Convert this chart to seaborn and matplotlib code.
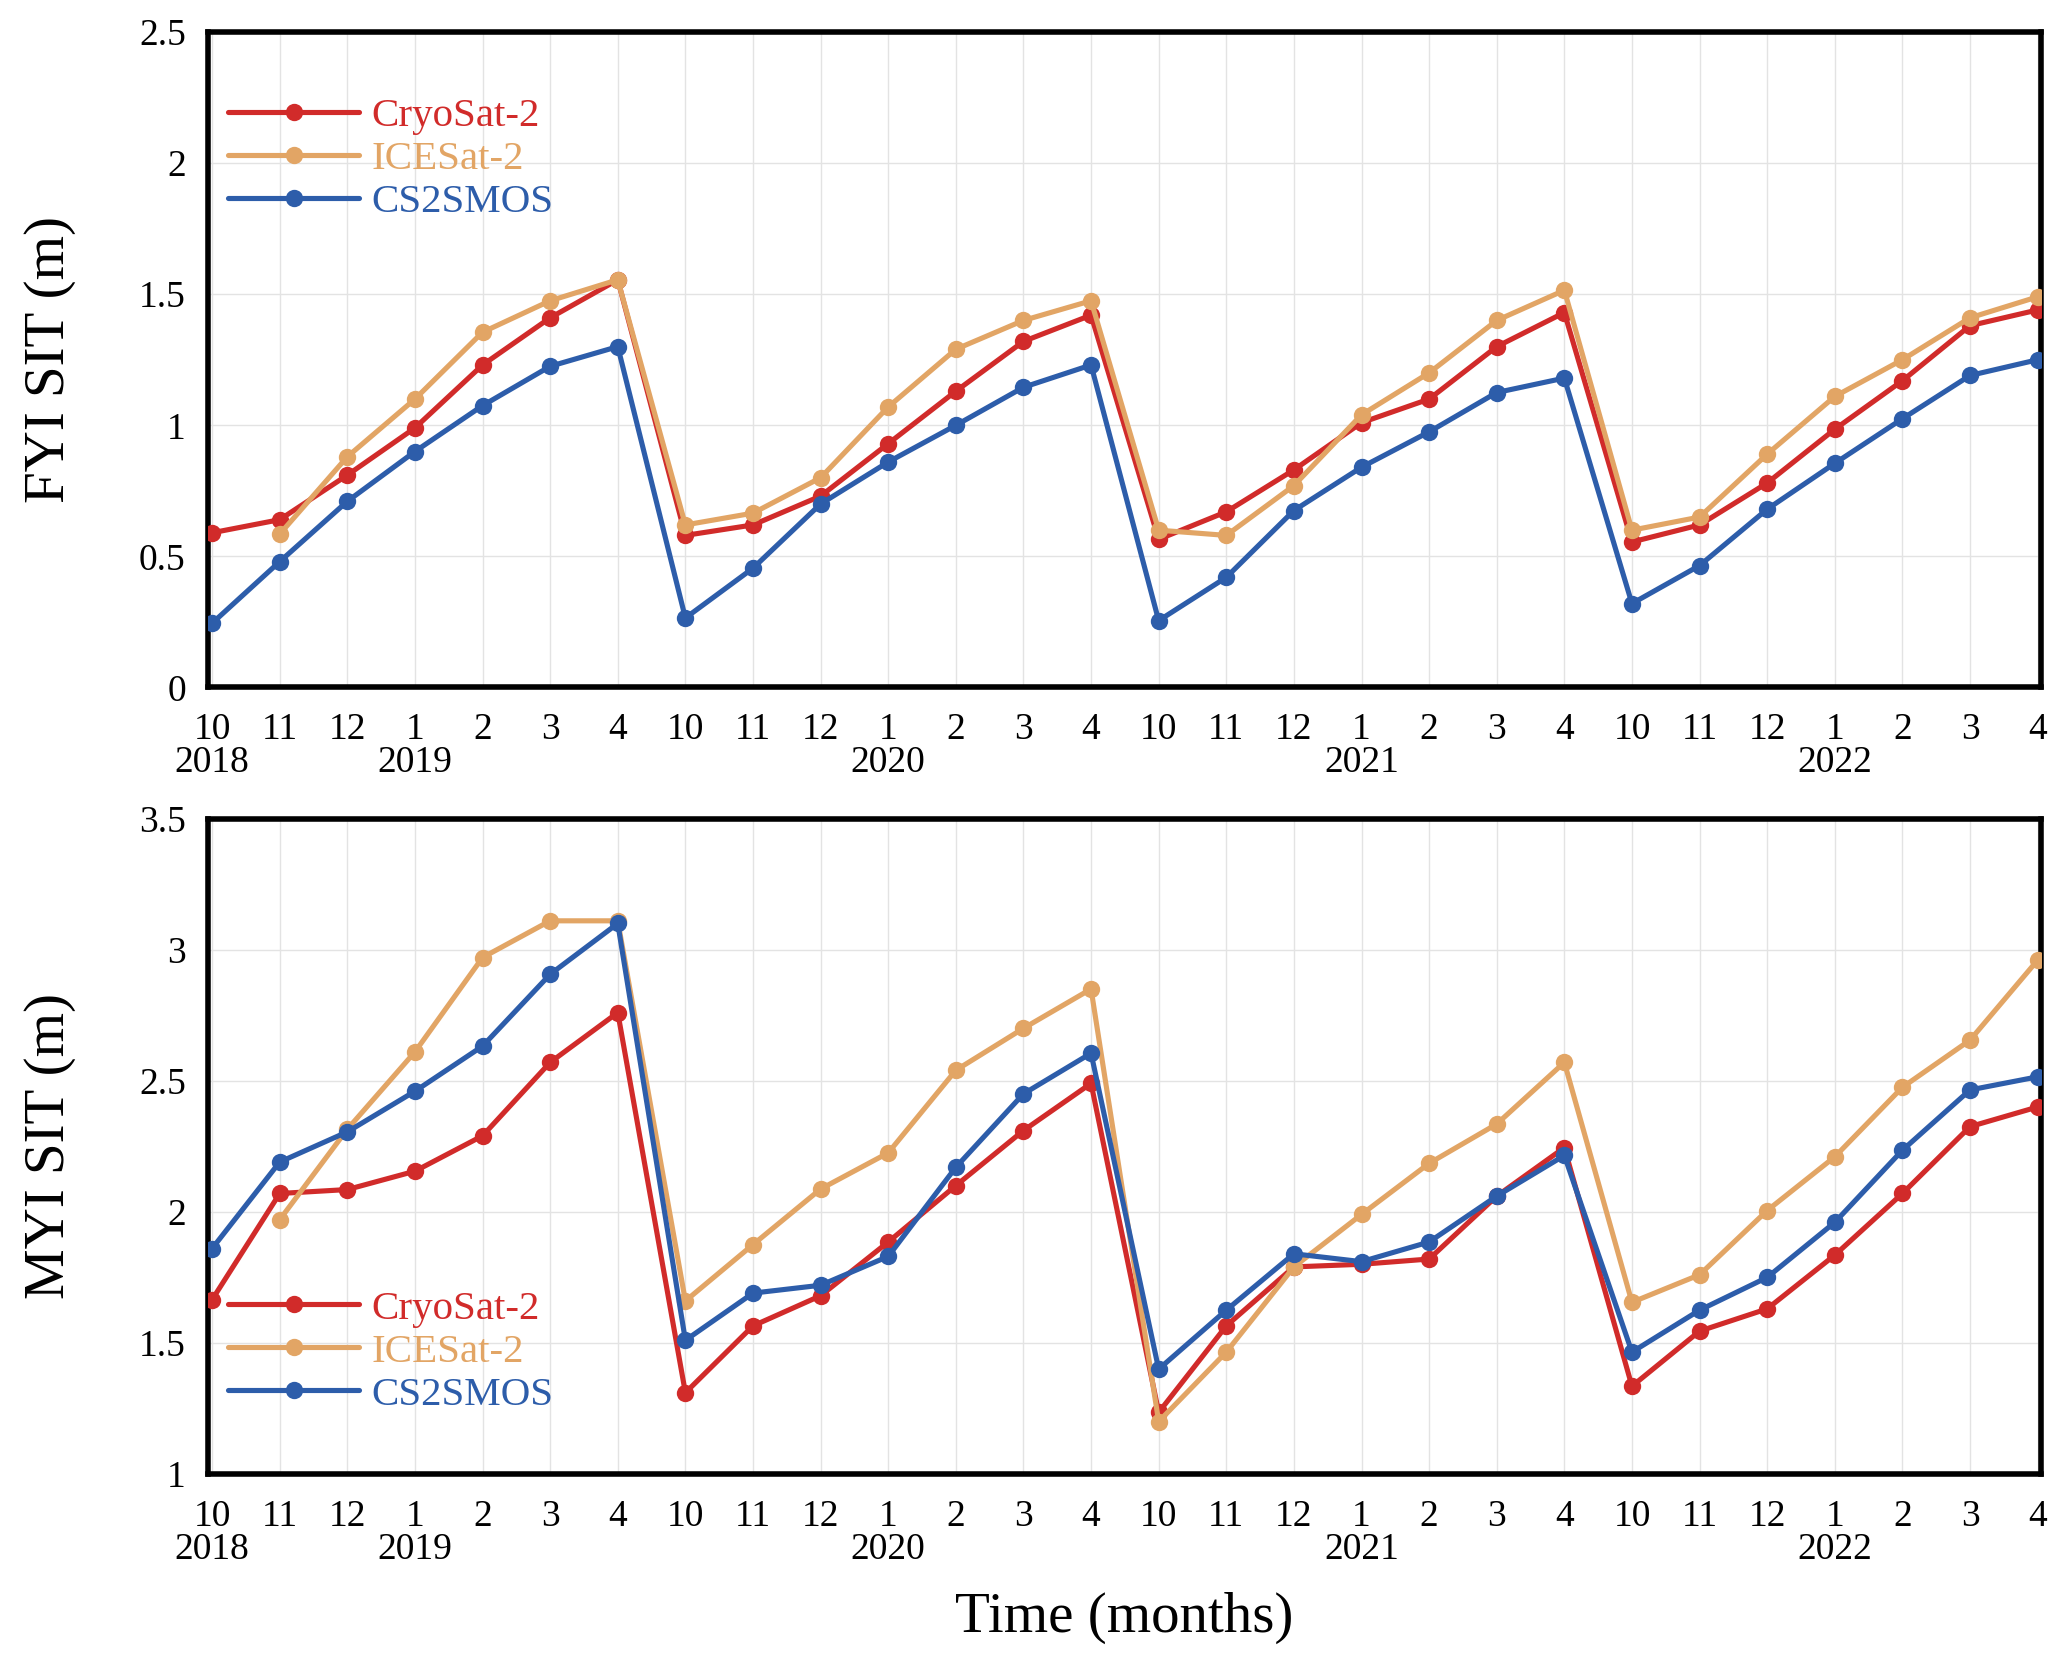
"""Monthly FYI / MYI sea-ice thickness, CryoSat-2 vs ICESat-2 vs CS2SMOS.

Two stacked panels sharing the same winter-month axis (Oct-Apr,
2018/19 .. 2021/22). Output: out.png (2070 x 1659 px).
"""
import matplotlib.pyplot as plt
import numpy as np
import pandas as pd
import seaborn as sns


MONTHS = [10, 11, 12, 1, 2, 3, 4] * 4
YEARS = ['2018', '', '', '2019', '', '', '',
         '', '', '', '2020', '', '', '',
         '', '', '', '2021', '', '', '',
         '', '', '', '2022', '', '', '']

PRODUCTS = ['CryoSat-2', 'ICESat-2', 'CS2SMOS']
COLORS = {'CryoSat-2': '#D12B2A', 'ICESat-2': '#E2A565', 'CS2SMOS': '#2D5DAA'}

# First-year ice thickness (m)
fyi_cs2 = [0.59, 0.64, 0.81, 0.99, 1.23, 1.41, 1.555,
           0.58, 0.62, 0.73, 0.93, 1.13, 1.32, 1.42,
           0.565, 0.67, 0.83, 1.01, 1.10, 1.30, 1.43,
           0.555, 0.62, 0.78, 0.985, 1.17, 1.38, 1.44]
fyi_is2 = [np.nan, 0.585, 0.88, 1.10, 1.355, 1.475, 1.555,
           0.62, 0.665, 0.80, 1.07, 1.29, 1.40, 1.475,
           0.60, 0.58, 0.77, 1.04, 1.20, 1.40, 1.515,
           0.60, 0.65, 0.89, 1.11, 1.25, 1.41, 1.49]
fyi_smos = [0.245, 0.48, 0.71, 0.90, 1.075, 1.225, 1.30,
            0.265, 0.455, 0.70, 0.86, 1.00, 1.145, 1.23,
            0.255, 0.42, 0.675, 0.84, 0.975, 1.125, 1.18,
            0.32, 0.465, 0.68, 0.855, 1.025, 1.19, 1.25]

# Multi-year ice thickness (m)
myi_cs2 = [1.665, 2.07, 2.085, 2.155, 2.29, 2.57, 2.76,
           1.31, 1.565, 1.68, 1.885, 2.10, 2.31, 2.49,
           1.235, 1.565, 1.79, 1.80, 1.82, 2.06, 2.245,
           1.335, 1.545, 1.63, 1.835, 2.07, 2.325, 2.40]
myi_is2 = [np.nan, 1.97, 2.315, 2.61, 2.97, 3.11, 3.11,
           1.66, 1.875, 2.087, 2.225, 2.54, 2.70, 2.85,
           1.20, 1.465, 1.79, 1.99, 2.185, 2.335, 2.57,
           1.655, 1.76, 2.005, 2.21, 2.475, 2.655, 2.96]
myi_smos = [1.86, 2.19, 2.305, 2.46, 2.632, 2.906, 3.10,
            1.51, 1.69, 1.72, 1.83, 2.17, 2.45, 2.605,
            1.40, 1.625, 1.84, 1.81, 1.885, 2.06, 2.215,
            1.465, 1.625, 1.75, 1.96, 2.235, 2.465, 2.515]

FS_TICK = 27
FS_LABEL = 41
FS_LEGEND = 29.5
LW = 3.7
MS = 12.5


def _long(cs2, is2, smos):
    idx = np.arange(len(MONTHS))
    frames = [pd.DataFrame({'t': idx, 'sit': v, 'product': p})
              for p, v in zip(PRODUCTS, [cs2, is2, smos])]
    return pd.concat(frames, ignore_index=True).dropna()


def _panel(ax, df, ylim, yticks, ylabel, legend_loc, legend_anchor):
    sns.lineplot(data=df, x='t', y='sit', hue='product', hue_order=PRODUCTS,
                 palette=COLORS, marker='o', markersize=MS, markeredgewidth=0,
                 linewidth=LW, ax=ax, legend=False, zorder=3)

    ax.set_xlim(-0.06, len(MONTHS) - 1 + 0.05)
    ax.set_ylim(*ylim)
    ax.set_yticks(yticks)
    ax.set_yticklabels([f'{v:g}' for v in yticks], fontsize=FS_TICK)
    ax.set_xticks(np.arange(len(MONTHS)))
    ax.set_xticklabels([f'{m}\n{y}' for m, y in zip(MONTHS, YEARS)],
                       fontsize=FS_TICK, va='top')
    for lab in ax.get_xticklabels():
        lab.set_linespacing(0.95)

    ax.grid(True, color='#e3e3e3', lw=1.0, zorder=0)
    ax.set_axisbelow(True)
    for sp in ax.spines.values():
        sp.set_linewidth(4)
        sp.set_color('black')
    ax.tick_params(axis='both', direction='out', length=10, width=1.5,
                   color='black', labelcolor='black', pad=6)
    ax.tick_params(axis='x', pad=8)

    ax.set_xlabel('')
    ax.set_ylabel(ylabel, fontsize=FS_LABEL, color='black')
    ax.yaxis.set_label_coords(-0.072, 0.5)

    handles = [plt.Line2D([], [], color=COLORS[p], lw=LW, marker='o',
                          markersize=MS, markeredgewidth=0) for p in PRODUCTS]
    ax.legend(handles, PRODUCTS, loc=legend_loc, bbox_to_anchor=legend_anchor,
              frameon=False, fontsize=FS_LEGEND, labelcolor='linecolor',
              handlelength=3.2, handletextpad=0.3, labelspacing=0.13,
              borderpad=0, borderaxespad=0)


def main():
    sns.set_theme(style='white')
    plt.rcParams['font.family'] = ['Liberation Serif', 'DejaVu Serif']
    plt.rcParams['text.color'] = 'black'

    fig, (ax1, ax2) = plt.subplots(2, 1, figsize=(20.7, 16.59), dpi=100)
    fig.subplots_adjust(left=0.1005, right=0.986, top=0.9807, bottom=0.1115,
                        hspace=0.2)

    _panel(ax1, _long(fyi_cs2, fyi_is2, fyi_smos), (0, 2.5),
           [0, 0.5, 1, 1.5, 2, 2.5], 'FYI SIT (m)', 'upper left', (0.011, 0.90))
    _panel(ax2, _long(myi_cs2, myi_is2, myi_smos), (1, 3.5),
           [1, 1.5, 2, 2.5, 3, 3.5], 'MYI SIT (m)', 'lower left', (0.011, 0.092))

    ax2.set_xlabel('Time (months)', fontsize=FS_LABEL, labelpad=18,
                   color='black')

    fig.savefig('out.png', dpi=100, facecolor='white')


if __name__ == '__main__':
    main()
